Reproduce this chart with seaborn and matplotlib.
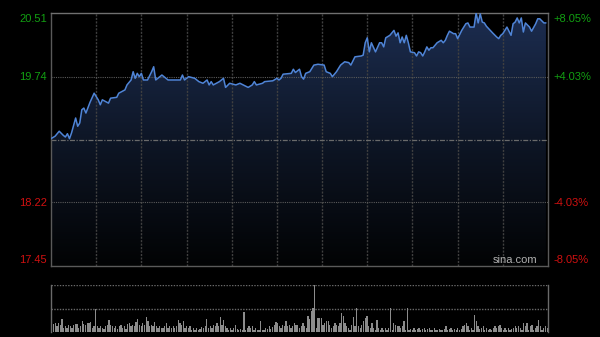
import numpy as np
import pandas as pd
import matplotlib
matplotlib.use("Agg")
import matplotlib.pyplot as plt
from matplotlib.colors import LinearSegmentedColormap
import seaborn as sns

# ---------------- data ----------------
minutes = [0, 2, 4, 6, 7, 8, 9, 10, 12, 13, 14, 15, 16, 17, 19, 21, 23, 24, 25, 28, 29, 32, 33, 36, 37,
           39, 40, 41, 42, 43, 44, 45, 47, 49, 50, 51, 53, 54, 57, 63, 64, 65, 67, 70, 72, 74, 76, 77,
           78, 79, 82, 84, 85, 87, 90, 92, 96, 98, 99, 100, 103, 104, 108, 110, 111, 112, 113, 117, 118,
           119, 121, 122, 123, 124, 126, 128, 130, 133, 134, 136, 137, 139, 141, 143, 145, 146, 148, 151,
           152, 153, 154, 155, 156, 158, 160, 161, 162, 163, 165, 167, 168, 169, 170, 171, 172, 173, 174,
           175, 177, 178, 179, 180, 181, 182, 183, 184, 185, 186, 188, 190, 191, 192, 193, 194, 196, 197,
           198, 200, 202, 203, 204, 206, 207, 208, 209, 210, 211, 212, 215, 217, 218, 219, 220, 222, 224,
           225, 226, 227, 228, 229, 230, 231, 233, 234, 236, 237, 238, 240, 241]
prices = [18.99, 19.02, 19.08, 19.03, 19.01, 19.05, 18.99, 19.06, 19.24, 19.14, 19.18, 19.34, 19.36, 19.30,
          19.43, 19.54, 19.46, 19.40, 19.46, 19.42, 19.48, 19.49, 19.54, 19.58, 19.64, 19.70, 19.80, 19.72,
          19.78, 19.74, 19.78, 19.70, 19.70, 19.80, 19.86, 19.70, 19.74, 19.76, 19.70, 19.70, 19.76, 19.70,
          19.74, 19.72, 19.68, 19.66, 19.70, 19.64, 19.68, 19.64, 19.68, 19.72, 19.61, 19.66, 19.64, 19.66,
          19.61, 19.64, 19.68, 19.64, 19.66, 19.68, 19.69, 19.72, 19.70, 19.72, 19.77, 19.78, 19.83, 19.79,
          19.83, 19.74, 19.71, 19.78, 19.80, 19.88, 19.89, 19.88, 19.80, 19.78, 19.74, 19.80, 19.88, 19.92,
          19.91, 19.88, 19.98, 19.99, 20.00, 20.15, 20.21, 20.04, 20.15, 20.04, 20.15, 20.15, 20.10, 20.21,
          20.24, 20.30, 20.23, 20.27, 20.15, 20.22, 20.15, 20.24, 20.15, 20.04, 20.03, 19.99, 20.04, 20.03,
          19.99, 20.04, 20.10, 20.06, 20.09, 20.09, 20.15, 20.18, 20.15, 20.18, 20.24, 20.29, 20.26, 20.26,
          20.20, 20.30, 20.38, 20.39, 20.34, 20.34, 20.51, 20.39, 20.50, 20.40, 20.39, 20.35, 20.27, 20.22,
          20.20, 20.24, 20.26, 20.34, 20.24, 20.38, 20.40, 20.45, 20.39, 20.45, 20.28, 20.39, 20.34, 20.29,
          20.38, 20.44, 20.44, 20.39, 20.39]

volume = [32, 24, 27, 17, 27, 22, 39, 12, 17, 12, 22, 17, 12, 22, 24, 24, 12, 17, 32, 25, 22, 27, 27, 29,
          12, 17, 70, 17, 12, 17, 12, 10, 17, 22, 37, 22, 17, 12, 17, 10, 17, 22, 12, 17, 10, 24, 27, 17,
          22, 17, 29, 39, 22, 17, 27, 22, 45, 32, 17, 22, 17, 29, 17, 12, 17, 12, 12, 17, 27, 12, 17, 12,
          17, 12, 17, 35, 27, 22, 32, 12, 17, 12, 17, 7, 12, 7, 12, 7, 9, 15, 12, 17, 39, 12, 17, 12, 22,
          17, 27, 17, 45, 22, 37, 17, 12, 7, 12, 7, 12, 22, 9, 7, 9, 7, 60, 7, 12, 17, 12, 17, 7, 12, 7, 5,
          32, 7, 7, 12, 9, 17, 9, 15, 22, 29, 27, 17, 12, 22, 19, 32, 17, 22, 12, 17, 27, 22,
          22, 12, 17, 27, 17, 12, 47, 39, 62, 72, 142, 12, 42, 42, 42, 22, 27, 32, 32, 22, 12, 17, 27, 22,
          17, 27, 57, 47, 27, 17, 12, 7, 22, 45, 17, 72, 17, 12, 22, 32, 42, 47, 17, 12, 27, 12, 7, 37, 12,
          7, 12, 7, 12, 7, 12, 72, 7, 27, 22, 17, 17, 12, 17, 32, 7, 72, 7, 9, 7, 12, 7, 9, 12, 7, 9, 12, 7,
          9, 12, 7, 7, 12, 7, 7, 9, 7, 7, 9, 19, 7, 9, 12, 7, 9, 7, 12, 7, 9, 17, 22, 27, 17, 7, 12, 7, 52,
          32, 17, 9, 12, 17, 7, 12, 7, 9, 7, 12, 17, 12, 17, 22, 12, 7, 12, 7, 12, 7, 9, 12, 17, 12, 19, 12,
          7, 27, 17, 27, 7, 17, 22, 7, 12, 17, 37, 17, 7, 12, 17, 12]

prev_close = 18.98
price_ticks = [20.51, 19.74, 18.22, 17.45]
price_labels = ["20.51", "19.74", "18.22", "17.45"]
pct_labels = ["+8.05%", "+4.03%", "-4.03%", "-8.05%"]
label_colors = ["#12a012", "#12a012", "#d01010", "#d01010"]

# ---------------- figure ----------------
sns.set_theme(style="dark")
plt.rcParams["font.family"] = ["Liberation Sans", "DejaVu Sans"]

W, H = 600, 337
fig = plt.figure(figsize=(W / 100, H / 100), dpi=100, facecolor="black")

ax = fig.add_axes([51 / W, 1 - 266 / H, 497 / W, 253 / H])
axv = fig.add_axes([51 / W, 1 - 332 / H, 497 / W, 47 / H])
for a in (ax, axv):
    a.set_facecolor("black")
    a.grid(False)

df = pd.DataFrame({"minute": minutes, "price": prices})
ymin, ymax = 17.45, 20.51
ax.set_xlim(0, 242)
ax.set_ylim(ymin, ymax)

# gradient fill under the line
cmap = LinearSegmentedColormap.from_list("g", ["#1c2d50", "#0e1626", "#020304"])
grad = np.linspace(0, 1, 256).reshape(-1, 1)
img = ax.imshow(grad, cmap=cmap, aspect="auto", extent=[0, 242, ymin, ymax],
                origin="upper", zorder=1)
poly = ax.fill_between(df["minute"], df["price"], ymin, color="none", lw=0)
img.set_clip_path(poly.get_paths()[0], transform=ax.transData)

# grid
for k in range(1, 11):
    ax.axvline(22 * k, color="#404040", lw=1, ls=(0, (1.5, 1)), zorder=2)
for t in [19.74, 18.22]:
    ax.axhline(t, color="#5a5a5a", lw=0.8, ls=(0, (1, 1)), zorder=2)
ax.axhline(prev_close, color="#6a6a6a", lw=0.9, ls=(0, (4, 1.2, 1, 1.2)), zorder=2)

sns.lineplot(data=df, x="minute", y="price", ax=ax, color="#4f84d6", lw=1.1, zorder=4)

ax.set_xticks([])
ax.set_yticks([])
ax.set_xlabel("")
ax.set_ylabel("")
for s in ax.spines.values():
    s.set_visible(True)
    s.set_color("#5a5a5a")
    s.set_linewidth(1)
ax.spines["top"].set_color("#707070")

ax.text(0.978, 0.022, "sina.com", transform=ax.transAxes, ha="right", va="center",
        color="#b0b0b0", fontsize=8, zorder=5)

# labels
label_y = [19, 77, 203, 260]
for yv, lab, pl, c in zip(label_y, price_labels, pct_labels, label_colors):
    fig.text(47 / W, 1 - yv / H, lab, ha="right", va="center", color=c, fontsize=8)
    fig.text(553 / W, 1 - yv / H, pl, ha="left", va="center", color=c, fontsize=8)

# volume
vdf = pd.DataFrame({"idx": np.arange(len(volume)), "vol": volume})
sns.barplot(data=vdf, x="idx", y="vol", ax=axv, native_scale=True, color="#8c8c8c",
            saturation=1, width=0.75, errorbar=None, linewidth=0)
axv.set_xlim(-0.5, len(volume) - 0.5)
axv.set_ylim(0, 142)
axv.axhline(142, color="#6a6a6a", lw=1, ls=(0, (1, 1)), zorder=0)
axv.axhline(71, color="#6a6a6a", lw=1, ls=(0, (1, 1)), zorder=0)
axv.set_xticks([])
axv.set_yticks([])
axv.set_xlabel("")
axv.set_ylabel("")
for side in ["top", "bottom"]:
    axv.spines[side].set_visible(False)
for side in ["left", "right"]:
    axv.spines[side].set_visible(True)
    axv.spines[side].set_color("#6a6a6a")
    axv.spines[side].set_linewidth(1)

fig.savefig("out.png", dpi=100, facecolor="black")
